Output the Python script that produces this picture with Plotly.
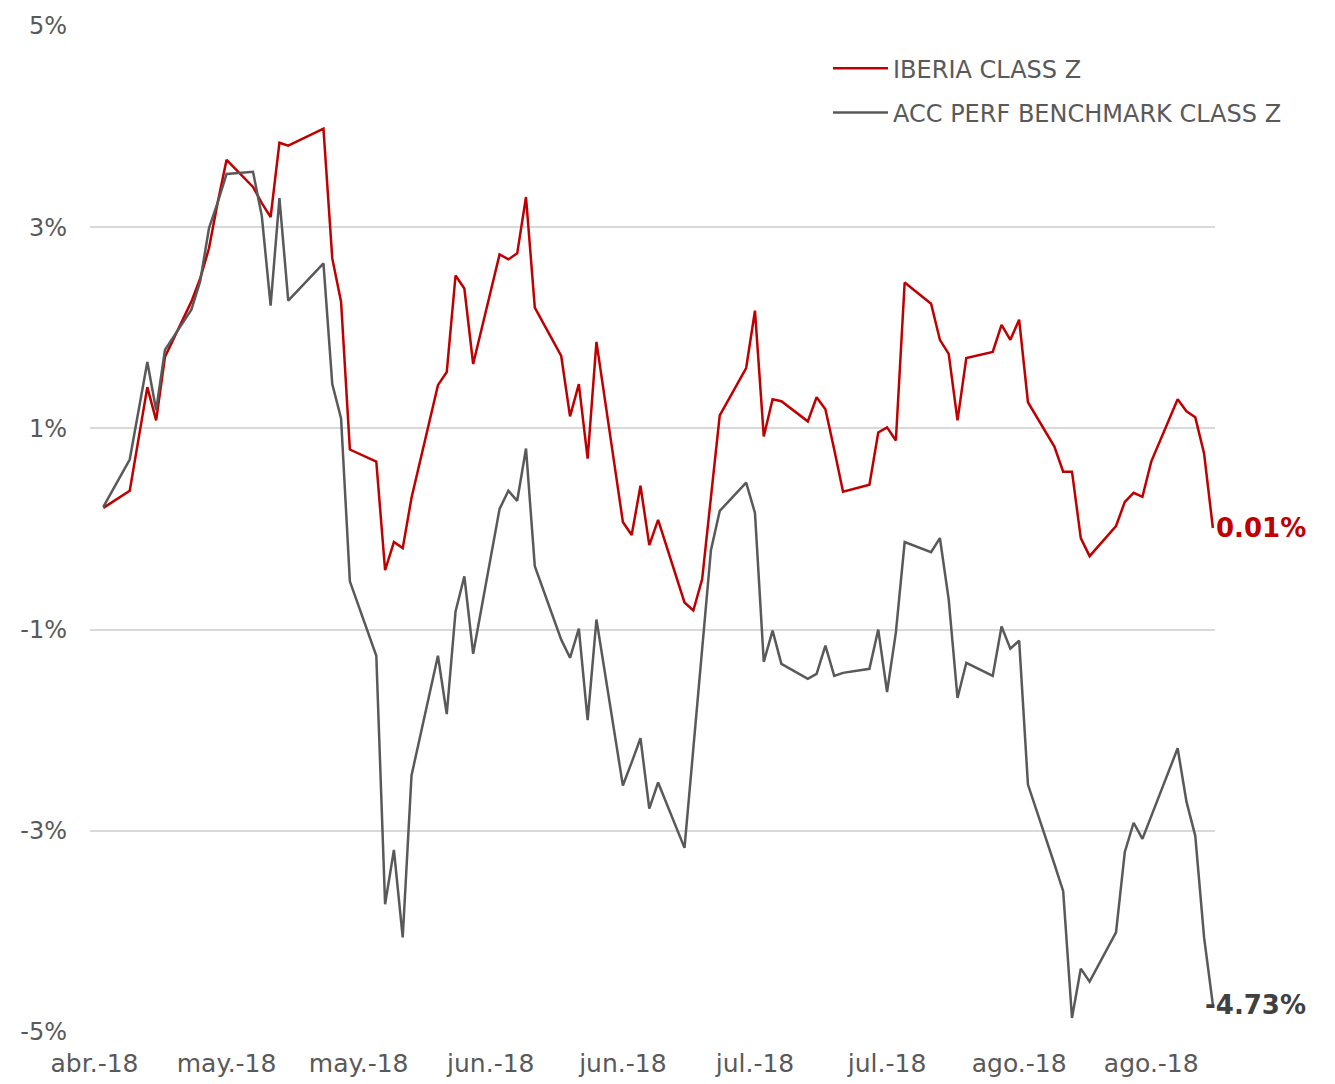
import plotly.graph_objects as go

dates = [
    "2018-04-27", "2018-04-30",
    "2018-05-02", "2018-05-03", "2018-05-04", "2018-05-07", "2018-05-08", "2018-05-09",
    "2018-05-10", "2018-05-11", "2018-05-14", "2018-05-15", "2018-05-16", "2018-05-17",
    "2018-05-18", "2018-05-22", "2018-05-23", "2018-05-24", "2018-05-25", "2018-05-28",
    "2018-05-29", "2018-05-30", "2018-05-31",
    "2018-06-01", "2018-06-04", "2018-06-05", "2018-06-06", "2018-06-07", "2018-06-08",
    "2018-06-11", "2018-06-12", "2018-06-13", "2018-06-14", "2018-06-15", "2018-06-18",
    "2018-06-19", "2018-06-20", "2018-06-21", "2018-06-22", "2018-06-25", "2018-06-26",
    "2018-06-27", "2018-06-28", "2018-06-29",
    "2018-07-02", "2018-07-03", "2018-07-04", "2018-07-05", "2018-07-06", "2018-07-09",
    "2018-07-10", "2018-07-11", "2018-07-12", "2018-07-13", "2018-07-16", "2018-07-17",
    "2018-07-18", "2018-07-19", "2018-07-20", "2018-07-23", "2018-07-24", "2018-07-25",
    "2018-07-26", "2018-07-27", "2018-07-30", "2018-07-31",
    "2018-08-01", "2018-08-02", "2018-08-03", "2018-08-06", "2018-08-07", "2018-08-08",
    "2018-08-09", "2018-08-10", "2018-08-13", "2018-08-14", "2018-08-15", "2018-08-16",
    "2018-08-17", "2018-08-20", "2018-08-21", "2018-08-22", "2018-08-23", "2018-08-24",
    "2018-08-27", "2018-08-28", "2018-08-29", "2018-08-30", "2018-08-31",
]

iberia = [
    0.21, 0.38,
    1.41, 1.08, 1.71, 2.26, 2.49, 2.79, 3.25, 3.67, 3.40, 3.24, 3.10, 3.84, 3.81, 3.98,
    2.69, 2.26, 0.79, 0.67, -0.41, -0.13, -0.19,
    0.31, 1.43, 1.56, 2.52, 2.39, 1.64, 2.73, 2.68, 2.74, 3.30, 2.20, 1.72, 1.12, 1.44,
    0.70, 1.86, 0.07, -0.06, 0.43, -0.16, 0.09,
    -0.73, -0.81, -0.50, 0.32, 1.13, 1.60, 2.17, 0.92, 1.29, 1.27, 1.07, 1.31, 1.19,
    0.79, 0.37, 0.44, 0.96, 1.01, 0.88, 2.45, 2.24, 1.88,
    1.74, 1.08, 1.70, 1.76, 2.03, 1.88, 2.08, 1.26, 0.82, 0.57, 0.57, -0.09, -0.27,
    0.03, 0.27, 0.36, 0.32, 0.67, 1.29, 1.17, 1.11, 0.75, 0.01,
]

benchmark = [
    0.22, 0.69,
    1.66, 1.18, 1.78, 2.18, 2.46, 2.99, 3.25, 3.53, 3.55, 3.11, 2.22, 3.29, 2.27, 2.64,
    1.44, 1.10, -0.52, -1.26, -3.73, -3.19, -4.06,
    -2.45, -1.26, -1.84, -0.82, -0.47, -1.24, 0.20, 0.38, 0.28, 0.80, -0.37, -1.10,
    -1.28, -0.99, -1.90, -0.90, -2.55, -2.32, -2.08, -2.78, -2.52,
    -3.17, -2.18, -1.20, -0.21, 0.18, 0.46, 0.16, -1.32, -1.01, -1.34, -1.49, -1.44,
    -1.16, -1.46, -1.43, -1.39, -1.00, -1.62, -1.03, -0.13, -0.23, -0.09,
    -0.70, -1.68, -1.33, -1.46, -0.97, -1.19, -1.11, -2.54, -3.33, -3.60, -4.86, -4.37,
    -4.50, -4.01, -3.21, -2.92, -3.08, -2.85, -2.18, -2.71, -3.05, -4.06, -4.73,
]

series_names = ["IBERIA CLASS Z", "ACC PERF BENCHMARK CLASS Z"]
series_colors = ["#c00000", "#595959"]
label_colors = ["#c00000", "#404040"]

x_tick_vals = ["2018-04-26", "2018-05-11", "2018-05-26", "2018-06-10", "2018-06-25",
               "2018-07-10", "2018-07-25", "2018-08-09", "2018-08-24"]
x_tick_text = ["abr.-18", "may.-18", "may.-18", "jun.-18", "jun.-18",
               "jul.-18", "jul.-18", "ago.-18", "ago.-18"]
y_tick_vals = [-5, -3, -1, 1, 3, 5]
y_tick_text = ["-5%", "-3%", "-1%", "1%", "3%", "5%"]

FONT = "Verdana, DejaVu Sans, sans-serif"
TXT = "#595959"

fig = go.Figure()
for i, (name, vals) in enumerate(zip(series_names, [iberia, benchmark])):
    fig.add_trace(go.Scatter(
        x=dates, y=vals, mode="lines", name=name,
        line=dict(color=series_colors[i], width=2.5),
        legendgroup=f"g{i}",
    ))
    fig.add_annotation(
        x=dates[-1], y=vals[-1], text=f"<b>{vals[-1]:.2f}%</b>",
        showarrow=False, xanchor="right", yanchor="middle", xshift=95,
        font=dict(family=FONT, size=26, color=label_colors[i]),
    )

fig.update_layout(
    width=1335, height=1084,
    margin=dict(l=82, r=128, t=18, b=60, autoexpand=False),
    paper_bgcolor="white", plot_bgcolor="white",
    font=dict(family=FONT, size=24, color=TXT),
    showlegend=True,
    legend=dict(
        x=0.656, y=0.980, xanchor="left", yanchor="top",
        bgcolor="rgba(0,0,0,0)", font=dict(family=FONT, size=24, color=TXT),
        tracegroupgap=10, itemwidth=55,
    ),
    xaxis=dict(
        type="date",
        range=["2018-04-25 11:44", "2018-08-31 05:46"],
        tickmode="array", tickvals=x_tick_vals, ticktext=x_tick_text,
        showgrid=False, showline=False, zeroline=False, ticks="",
        ticklabelstandoff=14, automargin=False,
        tickfont=dict(family=FONT, size=25, color=TXT),
    ),
    yaxis=dict(
        range=[-5, 5],
        tickmode="array", tickvals=y_tick_vals, ticktext=y_tick_text,
        showgrid=True, gridcolor="#d9d9d9", gridwidth=2,
        zeroline=False, showline=False, ticks="",
        ticklabelstandoff=22, automargin=False,
        tickfont=dict(family=FONT, size=24, color=TXT),
    ),
)

fig.write_html("out.html")
